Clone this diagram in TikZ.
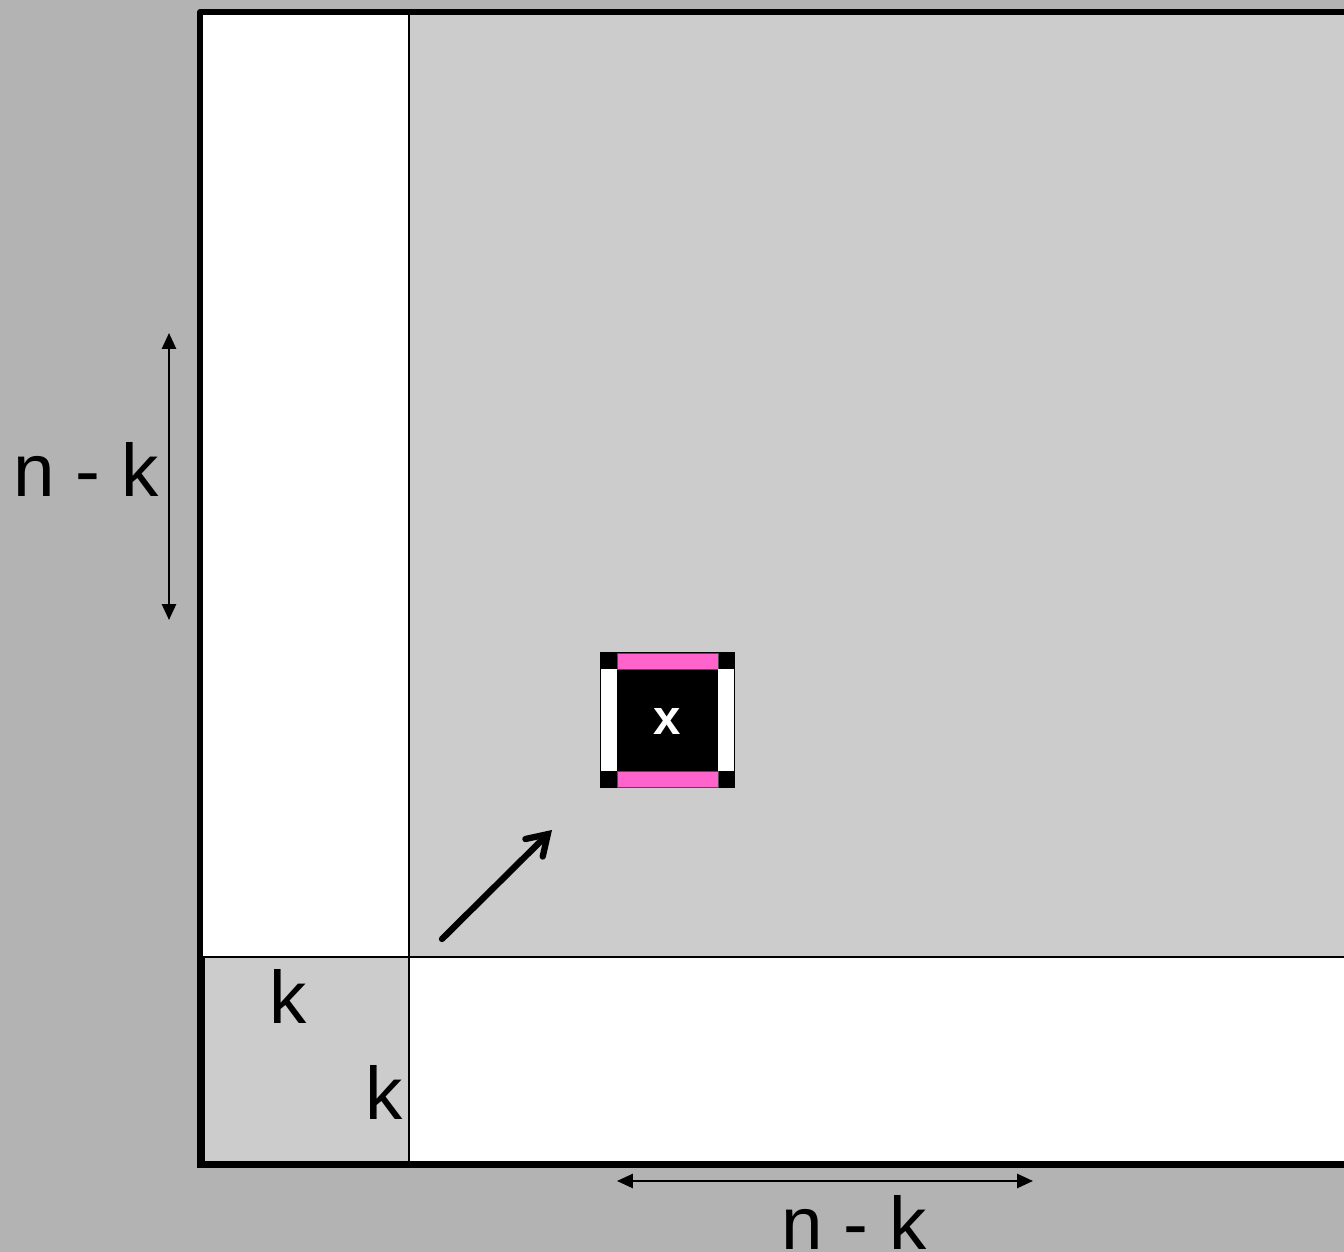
\documentclass[tikz,border=0pt]{standalone}
\usepackage{fontspec}
\setmainfont{Liberation Sans}
\usetikzlibrary{arrows.meta}
\definecolor{bggray}{RGB}{179,179,179}
\definecolor{panelgray}{RGB}{204,204,204}
\definecolor{pinkbar}{RGB}{255,100,204}
\begin{document}
\begin{tikzpicture}[x=0.01cm,y=-0.01cm,
  biglabel/.style={font=\fontsize{21.2}{21.2}\selectfont, anchor=base, inner sep=0pt},
  dimarrow/.style={line width=0.6pt, {Triangle[length=4.5pt,width=4pt]}-{Triangle[length=4.5pt,width=4pt]}},
  pointer/.style={line width=1.8pt, line cap=round, -{Straight Barb[length=5.5pt,width=7pt,line cap=round]}},
  thinline/.style={line width=0.55pt},
  frameline/.style={line width=1.6pt, line join=round}]
% background and page
\path[use as bounding box, fill=bggray] (0,0) rectangle (1344,1252);
% regions
\fill[white] (200,12) rectangle (409,957);
\fill[panelgray] (409,12) rectangle (1344,957);
\fill[panelgray] (200,957) rectangle (409,1165);
\fill[white] (409,957) rectangle (1344,1165);
% dividing lines
\draw[thinline] (409,12) -- (409,1165);
\draw[thinline] (200,957) -- (1344,957);
% frame
\draw[frameline] (1344,12) -- (200,12) -- (200,1165);
\draw[line width=2.1pt] (201,957) -- (201,1164.5) -- (1344,1164.5);
% small cell
\fill[black] (600,652) rectangle (735,788);
\filldraw[fill=pinkbar, draw=black!70, line width=0.2pt] (617,653) rectangle (718,669);
\filldraw[fill=pinkbar, draw=black!70, line width=0.2pt] (617,771) rectangle (718,787);
\fill[white] (601,669) rectangle (617,771);
\fill[white] (718,669) rectangle (734,771);
\node[text=white, font=\bfseries\fontsize{14}{14}\selectfont, inner sep=0pt] (xcell) at (667,721) {x};
% labels
\node[biglabel] (krow) at (288,1024) {k};
\node[biglabel] (kcol) at (384,1120) {k};
\node[biglabel] (nkleft) at (86,497) {n - k};
\node[biglabel] (nkbottom) at (854,1250) {n - k};
% dimension arrows
\coordinate (vtop) at (169,333);
\coordinate (vbot) at (169,620);
\draw[dimarrow] (vtop) -- (vbot);
\coordinate (hleft) at (617,1181);
\coordinate (hright) at (1033,1181);
\draw[dimarrow] (hleft) -- (hright);
% pointer arrow
\coordinate (ptail) at (442,939);
\coordinate (phead) at (552,830);
\draw[pointer] (ptail) -- (phead);
\end{tikzpicture}
\end{document}
